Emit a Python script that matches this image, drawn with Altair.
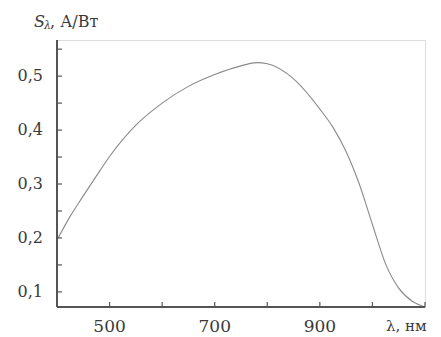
import altair as alt
import pandas as pd

wavelength = [400, 425, 450, 475, 500, 550, 600, 650, 700, 750, 780, 800, 850, 900, 925, 950, 975, 1000, 1025, 1050, 1075, 1100]
sensitivity = [0.196, 0.240, 0.278, 0.315, 0.351, 0.409, 0.450, 0.481, 0.503, 0.519, 0.525, 0.523, 0.495, 0.439, 0.405, 0.360, 0.300, 0.225, 0.152, 0.107, 0.083, 0.072]

x_ticks = [500, 600, 700, 800, 900, 1000, 1100]
x_labels = ["500", "", "700", "", "900", "", ""]
y_ticks = [0.10, 0.15, 0.20, 0.25, 0.30, 0.35, 0.40, 0.45, 0.50, 0.55]
y_labels = ["0,1", "", "0,2", "", "0,3", "", "0,4", "", "0,5", ""]

W, H = 368, 267
FONT = "DejaVu Serif"
INK = "#3a3a3a"

curve = pd.DataFrame({"wl": wavelength, "s": sensitivity})
xt = pd.DataFrame({"wl": x_ticks, "lab": x_labels})
yt = pd.DataFrame({"s": y_ticks, "lab": y_labels})

xs = alt.Scale(domain=[400, 1100], nice=False, zero=False)
ys = alt.Scale(domain=[0.072, 0.567], nice=False, zero=False)

line = alt.Chart(curve).mark_line(color="#8a8a8a", strokeWidth=1.1, interpolate="monotone").encode(
    x=alt.X("wl:Q", scale=xs, axis=None),
    y=alt.Y("s:Q", scale=ys, axis=None),
)

x_axis = alt.Chart(curve).mark_rule(color="#555555", strokeWidth=1.6).encode(
    x=alt.value(0), x2=alt.value(W), y=alt.value(H)
)
y_axis = alt.Chart(curve).mark_rule(color="#555555", strokeWidth=1.6).encode(
    x=alt.value(0), y=alt.value(0), y2=alt.value(H)
)

xtick_marks = alt.Chart(xt).mark_rule(color="#555555", strokeWidth=1.2).encode(
    x=alt.X("wl:Q", scale=xs), y=alt.value(H), y2=alt.value(H - 5)
)
ytick_marks = alt.Chart(yt).mark_rule(color="#555555", strokeWidth=1.2).encode(
    y=alt.Y("s:Q", scale=ys), x=alt.value(0), x2=alt.value(5)
)

xlab = alt.Chart(xt).mark_text(font=FONT, fontSize=17, color=INK, baseline="middle", align="center").encode(
    x=alt.X("wl:Q", scale=xs), y=alt.value(H + 20), text="lab:N"
)
ylab = alt.Chart(yt).mark_text(font=FONT, fontSize=16, color=INK, baseline="middle", align="right").encode(
    y=alt.Y("s:Q", scale=ys), x=alt.value(-14), text="lab:N"
)

title_df = pd.DataFrame({"t": ["S"]})
t_s = alt.Chart(title_df).mark_text(font=FONT, fontSize=16, fontStyle="italic", color=INK, align="left", baseline="alphabetic").encode(
    x=alt.value(-23), y=alt.value(-13), text=alt.value("S")
)
t_l = alt.Chart(title_df).mark_text(font=FONT, fontSize=11, fontStyle="italic", color=INK, align="left", baseline="alphabetic").encode(
    x=alt.value(-13), y=alt.value(-11), text=alt.value("λ")
)
t_u = alt.Chart(title_df).mark_text(font=FONT, fontSize=16, color=INK, align="left", baseline="alphabetic").encode(
    x=alt.value(-7), y=alt.value(-13), text=alt.value(", А/Вт")
)
x_unit = alt.Chart(title_df).mark_text(font=FONT, fontSize=15, color=INK, align="left", baseline="middle").encode(
    x=alt.value(329), y=alt.value(H + 19), text=alt.value("λ, нм")
)

chart = alt.layer(
    line, x_axis, y_axis, xtick_marks, ytick_marks, xlab, ylab, t_s, t_l, t_u, x_unit
).properties(
    width=W, height=H,
    autosize=alt.AutoSizeParams(type="none"),
    padding={"left": 49, "top": 32, "right": 8, "bottom": 30},
).configure_view(stroke=None).configure(background="white")

chart.save("out.html", embed_options={"renderer": "svg", "actions": False})
